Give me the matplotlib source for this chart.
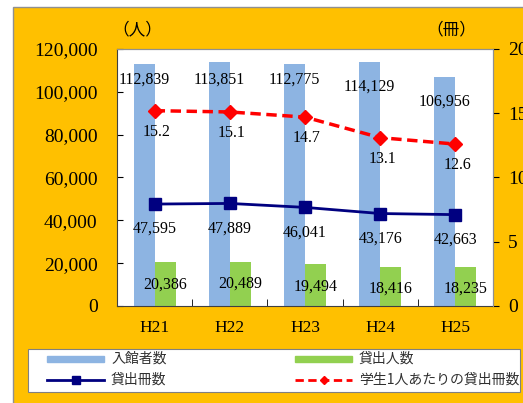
import matplotlib.pyplot as plt
import matplotlib.patches as patches
from matplotlib.lines import Line2D
from matplotlib.ticker import FuncFormatter

plt.rcParams['font.family'] = ['Liberation Serif', 'Noto Sans CJK JP', 'DejaVu Sans']

# data
years = ["H21", "H22", "H23", "H24", "H25"]
visitors = [112839, 113851, 112775, 114129, 106956]     # 入館者数
borrowers = [20386, 20489, 19494, 18416, 18235]         # 貸出人数
books = [47595, 47889, 46041, 43176, 42663]             # 貸出冊数
per_student = [15.2, 15.1, 14.7, 13.1, 12.6]            # 学生1人あたりの貸出冊数

# label offsets (pixels) for visitor labels, as placed in the original
visitor_label_dy = [-15, -17, -15, -25, -25]

BLUE = '#8DB4E2'
GREEN = '#92D050'
NAVY = '#000080'
RED = '#FF0000'
W, H = 523, 403


def fx(px):
    return px / W


def fy(py):
    return 1 - py / H


fig = plt.figure(figsize=(5.23, 4.03), dpi=100)
fig.patch.set_facecolor('white')

# orange panel behind everything
fig.add_artist(patches.Rectangle((fx(13), -0.1), 1.2, fy(7) + 0.1,
                                 transform=fig.transFigure, facecolor='#FFC000',
                                 edgecolor='#909090', linewidth=1, zorder=-10))

ax = fig.add_axes([fx(117), fy(306), 376 / W, 257 / H])
ax.set_facecolor('white')
ax2 = ax.twinx()

x = list(range(len(years)))
w = 0.28
xb = [i - w / 2 for i in x]
xg = [i + w / 2 for i in x]

ax.bar(xb, visitors, width=w, color=BLUE, zorder=2)
ax.bar(xg, borrowers, width=w, color=GREEN, zorder=2)
ax.plot(x, books, color=NAVY, lw=2, marker='s', ms=9, zorder=3)
ax2.plot(x, per_student, color=RED, lw=2.5, ls=(0, (3, 1.6)), marker='D',
         ms=7, zorder=3)

ax.set_xlim(-0.5, 4.5)
ax.set_ylim(0, 120000)
ax2.set_ylim(0, 20)
ax.set_yticks(range(0, 120001, 20000))
ax2.set_yticks([0, 5, 10, 15, 20])
ax.yaxis.set_major_formatter(FuncFormatter(lambda v, p: f"{int(v):,}"))
ax.set_xticks(x)
ax.set_xticklabels(years)
ax.set_xticks([i + 0.5 for i in x[:-1]], minor=True)

ax.tick_params(axis='y', direction='in', length=4, pad=14, labelsize=14)
ax.tick_params(axis='x', which='major', length=0, pad=10, labelsize=12.5)
ax.tick_params(axis='x', which='minor', direction='in', length=5)
ax2.tick_params(axis='y', direction='out', length=4, pad=7, labelsize=14)

for s in ['left', 'bottom']:
    ax.spines[s].set_color('#404040')
for s in ['top', 'right']:
    ax.spines[s].set_color('#909090')
for s in ax2.spines.values():
    s.set_color('#909090')
ax2.spines['left'].set_visible(False)
ax2.spines['bottom'].set_visible(False)

# data labels
lab = dict(ha='center', va='center', fontsize=11.5, zorder=5)
for i in x:
    ax.annotate(f"{visitors[i]:,}", (xb[i], visitors[i]), xytext=(0, visitor_label_dy[i]),
                textcoords='offset pixels', **lab)
    ax.annotate(f"{borrowers[i]:,}", (xg[i], borrowers[i]), xytext=(0, -22),
                textcoords='offset pixels', **lab)
    ax.annotate(f"{books[i]:,}", (i, books[i]), xytext=(0, -25),
                textcoords='offset pixels', **lab)
    ax2.annotate(f"{per_student[i]}", (i, per_student[i]), xytext=(2, -21),
                 textcoords='offset pixels', **lab)

fig.text(fx(112), fy(30), "（人）", fontsize=12, va='center', ha='left',
         family=['Noto Sans CJK JP'])
fig.text(fx(476), fy(30), "（冊）", fontsize=12, va='center', ha='right',
         family=['Noto Sans CJK JP'])

# legend box, drawn by hand
fig.add_artist(patches.Rectangle((fx(28), fy(392)), 492 / W, 43 / H,
                                 transform=fig.transFigure, facecolor='white',
                                 edgecolor='#808080', linewidth=0.8, zorder=1))

names = ["入館者数", "貸出人数", "貸出冊数", "学生1人あたりの貸出冊数"]
slots = [(47, 359), (295, 359), (47, 380), (295, 380)]
hl = 57  # handle length in pixels

(px, py) = slots[0]
fig.add_artist(patches.Rectangle((fx(px), fy(py + 3)), hl / W, 6 / H,
                                 transform=fig.transFigure, color=BLUE, zorder=2))
(px, py) = slots[1]
fig.add_artist(patches.Rectangle((fx(px), fy(py + 3)), hl / W, 6 / H,
                                 transform=fig.transFigure, color=GREEN, zorder=2))
(px, py) = slots[2]
fig.add_artist(Line2D([fx(px), fx(px + hl)], [fy(py), fy(py)], color=NAVY, lw=2,
                      transform=fig.transFigure, zorder=2))
fig.add_artist(Line2D([fx(px + hl / 2)], [fy(py)], color=NAVY, marker='s', ms=6,
                      transform=fig.transFigure, zorder=2))
(px, py) = slots[3]
fig.add_artist(Line2D([fx(px), fx(px + hl)], [fy(py), fy(py)], color=RED, lw=2,
                      ls=(0, (3, 1.6)), transform=fig.transFigure, zorder=2))
fig.add_artist(Line2D([fx(px + hl / 2)], [fy(py)], color=RED, marker='D', ms=4.5,
                      transform=fig.transFigure, zorder=2))

for n, (px, py) in zip(names, slots):
    fig.text(fx(px + hl + 7), fy(py), n, fontsize=10, va='center', ha='left',
             family=['Noto Sans CJK JP'], color='#303030', zorder=3)

fig.savefig("out.png", dpi=100)
